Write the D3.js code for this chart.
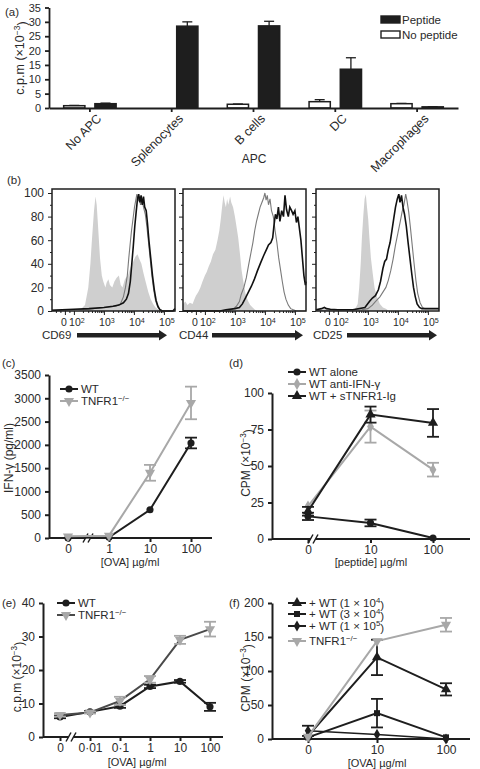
<!DOCTYPE html>
<html><head><meta charset="utf-8">
<script src="https://cdn.jsdelivr.net/npm/d3@7"></script>
<style>
body{margin:0;background:#fff;}
svg text{font-family:"Liberation Sans",Arial,Helvetica,sans-serif;fill:#2a2a2a;}
</style></head><body>
<svg id="chart" width="480" height="769"></svg>
<script>
// ================= DATA =================
// (a)
const apcCategories = ["No APC","Splenocytes","B cells","DC","Macrophages"];
const apcSeries = ["No peptide","Peptide"];
const noPeptideValues = [0.8, 0, 1.3, 2.2, 1.5];
const noPeptideErrTop = [0.9, 0, 1.4, 2.9, 1.6];
const peptideValues = [1.5, 28.5, 28.6, 13.5, 0.4];
const peptideErrTop = [1.7, 30.0, 30.2, 17.5, 0.45];
const apcTicks = [0,5,10,15,20,25,30,35];

// (b) flow histograms: [decade position, % of max]
const histMarkers = ["CD69","CD44","CD25"];
const histYTicks = [0,20,40,60,80,100];
const histXTickLabels = ["0","10","10","10","10"];
const histXTickSups = ["","2","3","4","5"];
const histXTickPos = [1.7,2,3,4,5];
const cd69Isotype = [[1.27,0],[2.15,0],[2.25,2],[2.37,5],[2.48,20],[2.55,40],[2.6,60],[2.67,85],[2.72,97],[2.76,90],[2.81,70],[2.87,45],[2.93,30],[2.98,25],[3.05,20],[3.09,24],[3.15,27],[3.2,22],[3.28,20],[3.35,25],[3.42,28],[3.5,30],[3.56,22],[3.62,20],[3.7,27],[3.8,30],[3.9,38],[3.98,42],[4.05,46],[4.12,48],[4.18,44],[4.25,40],[4.32,32],[4.4,24],[4.48,16],[4.56,10],[4.64,6],[4.72,3],[4.82,1],[4.92,0],[5.37,0]];
const cd69Gray = [[1.27,0.5],[2.5,1.5],[3.0,3],[3.4,4],[3.55,6],[3.65,12],[3.72,20],[3.78,30],[3.83,45],[3.88,58],[3.92,68],[3.97,78],[4.02,88],[4.07,95],[4.1,99],[4.14,93],[4.18,97],[4.22,90],[4.27,95],[4.32,88],[4.38,82],[4.43,72],[4.48,60],[4.54,45],[4.6,30],[4.66,18],[4.72,9],[4.8,3],[4.88,1],[4.96,0],[5.37,0]];
const cd69Black = [[1.27,0.5],[1.6,1],[2.0,1.5],[2.5,2],[3.0,3],[3.3,4],[3.5,5],[3.65,7],[3.75,10],[3.82,15],[3.88,25],[3.93,40],[3.98,55],[4.03,72],[4.08,85],[4.12,95],[4.16,99],[4.2,92],[4.24,98],[4.28,90],[4.32,97],[4.36,88],[4.41,85],[4.45,75],[4.5,60],[4.56,45],[4.62,30],[4.68,18],[4.74,9],[4.8,4],[4.87,1],[4.95,0],[5.3,0],[5.37,2]];
const cd44Isotype = [[1.27,6],[1.35,8],[1.42,5],[1.5,7],[1.59,6],[1.65,10],[1.7,13],[1.78,16],[1.85,20],[1.92,25],[2.0,30],[2.06,33],[2.13,38],[2.2,42],[2.27,48],[2.35,52],[2.42,60],[2.48,68],[2.53,78],[2.58,90],[2.62,98],[2.66,92],[2.7,88],[2.74,95],[2.78,90],[2.84,97],[2.88,92],[2.94,88],[3.0,80],[3.05,72],[3.11,62],[3.17,48],[3.22,35],[3.28,25],[3.35,15],[3.43,9],[3.51,5],[3.59,3],[3.67,1],[3.75,0],[5.37,0]];
const cd44Gray = [[1.27,0],[2.8,0],[2.95,2],[3.05,4],[3.15,8],[3.21,14],[3.3,20],[3.38,28],[3.45,38],[3.54,50],[3.6,58],[3.66,68],[3.72,76],[3.78,82],[3.84,88],[3.9,92],[3.96,96],[4.0,100],[4.04,94],[4.08,98],[4.12,90],[4.17,95],[4.22,85],[4.28,80],[4.34,68],[4.4,58],[4.46,45],[4.52,35],[4.58,25],[4.64,16],[4.7,10],[4.78,5],[4.86,2],[4.95,1],[5.05,0],[5.37,0]];
const cd44Black = [[1.27,0],[2.5,0],[2.7,1],[3.0,2],[3.15,3],[3.25,6],[3.35,11],[3.45,16],[3.55,21],[3.65,27],[3.75,34],[3.86,41],[3.96,47],[4.05,52],[4.12,56],[4.2,58],[4.26,62],[4.3,72],[4.35,82],[4.4,78],[4.45,88],[4.5,76],[4.56,85],[4.62,80],[4.67,98],[4.72,86],[4.78,80],[4.83,88],[4.89,85],[4.94,82],[5.0,85],[5.05,75],[5.1,80],[5.15,70],[5.2,60],[5.25,45],[5.3,30],[5.35,22],[5.37,25]];
const cd25Isotype = [[1.27,0],[2.5,0],[2.6,3],[2.66,6],[2.71,20],[2.76,40],[2.8,62],[2.85,82],[2.89,95],[2.93,99],[2.97,88],[3.01,78],[3.05,62],[3.1,45],[3.16,32],[3.22,20],[3.3,12],[3.4,6],[3.5,3],[3.6,2],[3.7,0],[5.37,0]];
const cd25Gray = [[1.27,0.5],[2.8,1],[3.0,2],[3.15,5],[3.25,8],[3.4,12],[3.5,16],[3.6,20],[3.68,26],[3.76,34],[3.84,44],[3.92,56],[4.0,66],[4.08,76],[4.14,84],[4.2,90],[4.26,99],[4.3,94],[4.36,84],[4.42,70],[4.48,55],[4.54,40],[4.6,26],[4.66,15],[4.74,7],[4.82,3],[4.9,2],[5.37,2]];
const cd25Black = [[1.27,1],[1.45,2],[1.55,3],[1.62,2],[1.75,1.5],[2.0,1],[2.5,1],[2.9,3],[3.05,8],[3.15,11],[3.25,13],[3.35,18],[3.42,25],[3.5,36],[3.56,42],[3.62,44],[3.68,52],[3.74,58],[3.8,68],[3.86,78],[3.92,88],[3.98,95],[4.03,99],[4.07,92],[4.12,98],[4.17,88],[4.22,82],[4.28,72],[4.34,58],[4.4,45],[4.46,32],[4.52,20],[4.58,12],[4.64,6],[4.72,3],[4.8,2],[5.37,2]];

// (c)
const ovaC = ["0","1","10","100"];
const cWT = [0, 14, 607, 2040];
const cWTErr = [0, 0, 0, 115];
const cTNF = [36, 50, 1400, 2900];
const cTNFErr = [0, 0, 170, 350];
const cYTicks = [0,500,1000,1500,2000,2500,3000,3500];

// (d)
const peptideD = ["0","10","100"];
const dWTalone = [15.5, 11, 0.7];
const dWTaloneErr = [2.5, 2.3, 0];
const dAntiIFN = [22.4, 77, 47.5];
const dAntiIFNErr = [0, 11, 4.7];
const dSTNFR = [19, 85.2, 79.5];
const dSTNFRErr = [3, 5.5, 9.5];
const dYTicks = [0,25,50,75,100];

// (e)
const ovaE = ["0","0·01","0·1","1","10","100"];
const eWT = [6.0, 7.5, 9.2, 15.1, 16.6, 9.0];
const eWTErr = [0.4, 0.3, 0.5, 0.5, 0.4, 1.2];
const eTNF = [6.6, 7.3, 10.8, 17.2, 29.0, 32.2];
const eTNFErr = [0.5, 0.3, 1.2, 1.0, 1.2, 2.2];
const eYTicks = [0,10,20,30,40];

// (f)
const ovaF = ["0","10","100"];
const fWT1e4 = [4.4, 120, 73];
const fWT1e4Err = [0, 26, 9];
const fWT3e4 = [2.4, 38, 2.4];
const fWT3e4Err = [0, 21, 0];
const fWT1e5 = [12, 6.8, 0];
const fWT1e5Err = [7.5, 0, 0];
const fTNF = [3.4, 144, 168];
const fTNFErr = [0, 0, 10];
const fYTicks = [0,50,100,150,200];

// ================= DRAW =================
const svg = d3.select("#chart");
const BLACK = "#1e1e1e", GRAY = "#a8a8a8";

function richText(g, x, y, parts, opts = {}) {
  const size = opts.size || 11;
  const t = g.append("text").attr("x", x).attr("y", y).attr("font-size", size)
    .attr("text-anchor", opts.anchor || "start");
  if (opts.transform) t.attr("transform", opts.transform);
  let prevSup = false;
  parts.forEach(p => {
    const [txt, sup] = Array.isArray(p) ? p : [p, false];
    const ts = t.append("tspan").text(txt);
    if (sup && !prevSup) ts.attr("dy", "-0.45em");
    if (!sup && prevSup) ts.attr("dy", "0.45em");
    if (sup) ts.attr("font-size", size * 0.68);
    prevSup = sup;
  });
  return t;
}
function styleAxis(g, width) {
  g.select(".domain").attr("stroke", BLACK).attr("stroke-width", width);
  g.selectAll(".tick line").attr("stroke", BLACK).attr("stroke-width", width);
  g.selectAll(".tick text").attr("fill", "#2a2a2a").attr("font-family", "Liberation Sans, Arial, sans-serif");
}

// ---------- (a) ----------
{
  const g = svg.append("g");
  const y = d3.scaleLinear().domain([0,35]).range([108,7.5]);
  const x0 = d3.scaleBand().domain(apcCategories).range([49,458]).paddingInner(0).paddingOuter(0);
  const x1 = d3.scaleBand().domain(apcSeries).range([0, x0.bandwidth()]).paddingInner(0.32).paddingOuter(0.47);
  const yAx = g.append("g").attr("transform","translate(49,0)")
    .call(d3.axisLeft(y).tickValues(apcTicks).tickSize(4).tickSizeOuter(0));
  yAx.selectAll(".tick text").attr("font-size", 11).attr("dx", -1);
  styleAxis(yAx, 1.8);
  const rows = apcCategories.map((c,i) => ({c, np: noPeptideValues[i], npe: noPeptideErrTop[i], p: peptideValues[i], pe: peptideErrTop[i]}));
  rows.forEach(r => {
    [["No peptide", r.np, r.npe, "#fff"], ["Peptide", r.p, r.pe, BLACK]].forEach(([s, v, e, fill]) => {
      if (v <= 0) return;
      const bx = x0(r.c) + x1(s), bw = x1.bandwidth();
      if (e > v) {
        const cx = bx + bw/2;
        g.append("line").attr("x1", cx).attr("x2", cx).attr("y1", y(v)).attr("y2", y(e)).attr("stroke", BLACK).attr("stroke-width", 1.3);
        g.append("line").attr("x1", cx-5).attr("x2", cx+5).attr("y1", y(e)).attr("y2", y(e)).attr("stroke", BLACK).attr("stroke-width", 1.3);
      }
      g.append("rect").attr("x", bx).attr("width", bw).attr("y", y(v)).attr("height", y(0) - y(v))
        .attr("fill", fill).attr("stroke", BLACK).attr("stroke-width", 1.5);
    });
  });
  const xAx = g.append("g").attr("transform","translate(0,108)")
    .call(d3.axisBottom(x0).tickSize(4).tickSizeOuter(0));
  styleAxis(xAx, 1.8);
  xAx.selectAll(".tick text").attr("font-size", 12.5).attr("text-anchor","end")
    .attr("transform","translate(5,4) rotate(-45)").attr("dy","0.35em").attr("y", 6).attr("x", 0);
  g.append("text").attr("x", 254).attr("y", 163).attr("text-anchor","middle").attr("font-size", 12).text("APC");
  richText(g, 0, 0, ["c.p.m (×10", ["−3", true], ")"], {size: 12.5, anchor: "middle", transform: "translate(24,58) rotate(-90)"});
  g.append("text").attr("x", 5).attr("y", 16).attr("font-size", 11.5).text("(a)");
  // legend
  const lg = g.append("g");
  [["Peptide", BLACK, 16], ["No peptide", "#fff", 31]].forEach(([lab, fill, yy]) => {
    lg.append("rect").attr("x", 381).attr("y", yy).attr("width", 19).attr("height", 7).attr("fill", fill).attr("stroke", BLACK).attr("stroke-width", 1.4);
    lg.append("text").attr("x", 402).attr("y", yy + 7.5).attr("font-size", 11.5).text(lab);
  });
}

// ---------- (b) ----------
{
  const lefts = [52, 183, 316], W = 123, top = 189, bottom = 311;
  const labelX = [42, 179, 313];
  const arrows = [[77,167],[212,303],[347,437]];
  const y = d3.scaleLinear().domain([0,100]).range([311,193]);
  const data = [[cd69Isotype, cd69Gray, cd69Black],[cd44Isotype, cd44Gray, cd44Black],[cd25Isotype, cd25Gray, cd25Black]];
  svg.append("text").attr("x", 7).attr("y", 184).attr("font-size", 11.5).text("(b)");
  lefts.forEach((L, k) => {
    const g = svg.append("g");
    const x = d3.scaleLinear().domain([1.27, 5.37]).range([L, L + W]);
    const area = d3.area().x(d => x(d[0])).y0(y(0)).y1(d => y(d[1]));
    const line = d3.line().x(d => x(d[0])).y(d => y(d[1]));
    g.append("path").attr("d", area(data[k][0])).attr("fill", "#cfcfcf");
    g.append("path").attr("d", line(data[k][1])).attr("fill","none").attr("stroke", "#7a7a7a").attr("stroke-width", 1.1);
    g.append("path").attr("d", line(data[k][2])).attr("fill","none").attr("stroke", "#111").attr("stroke-width", 1.6);
    g.append("rect").attr("x", L).attr("y", top).attr("width", W).attr("height", bottom - top)
      .attr("fill","none").attr("stroke", BLACK).attr("stroke-width", 1.5);
    // y ticks
    const yAx = g.append("g").attr("transform", `translate(${L},0)`)
      .call(d3.axisLeft(y).tickValues(histYTicks).tickSize(4).tickSizeOuter(0).tickFormat(k === 0 ? d3.format("d") : ""));
    yAx.select(".domain").remove();
    yAx.selectAll(".tick text").attr("font-size", 12).attr("dx", -1);
    styleAxis(yAx, 1);
    g.append("g").attr("transform", `translate(${L},0)`)
      .call(d3.axisLeft(y).tickValues([10,30,50,70,90]).tickSize(2).tickFormat(""))
      .call(a => { a.select(".domain").remove(); a.selectAll("line").attr("stroke", BLACK); });
    // x ticks
    const minor = [];
    for (let e = 2; e <= 4; e++) for (let m = 2; m <= 9; m++) minor.push(e + Math.log10(m));
    [1.4, 1.55, 1.85].forEach(v => minor.push(v));
    const xAxMinor = g.append("g").attr("transform", `translate(0,${bottom})`)
      .call(d3.axisBottom(x).tickValues(minor).tickSize(2).tickFormat(""));
    xAxMinor.select(".domain").remove();
    xAxMinor.selectAll("line").attr("stroke", BLACK);
    const xAx = g.append("g").attr("transform", `translate(0,${bottom})`)
      .call(d3.axisBottom(x).tickValues(histXTickPos).tickSize(4).tickFormat(""));
    xAx.select(".domain").remove();
    xAx.selectAll("line").attr("stroke", BLACK).attr("stroke-width", 1);
    histXTickPos.forEach((p, i) => {
      const parts = histXTickSups[i] ? [histXTickLabels[i], [histXTickSups[i], true]] : [histXTickLabels[i]];
      richText(g, x(p) + (histXTickSups[i] ? 3 : -1), 326, parts, {size: 10.5, anchor: "middle"});
    });
    // marker label + arrow
    g.append("text").attr("x", labelX[k]).attr("y", 339).attr("font-size", 11.5).text(histMarkers[k]);
    const [ax0, ax1] = arrows[k];
    g.append("rect").attr("x", ax0).attr("y", 333).attr("width", ax1 - ax0 - 7).attr("height", 4.5).attr("fill", "#222");
    g.append("path").attr("d", `M${ax1 - 8},330 L${ax1},335.2 L${ax1 - 8},340.5 Z`).attr("fill", "#222");
  });
}

// generic line panel
function linePanel(cfg) {
  const g = svg.append("g");
  const x = d3.scalePoint().domain(cfg.xDomain).range(cfg.xRange);
  const y = d3.scaleLinear().domain(cfg.yDomain).range([cfg.y0, cfg.y1]);
  const yAx = g.append("g").attr("transform", `translate(${cfg.axX},0)`)
    .call(d3.axisLeft(y).tickValues(cfg.yTicks).tickSize(4).tickSizeOuter(0).tickFormat(d3.format("d")));
  yAx.selectAll(".tick text").attr("font-size", 12).attr("dx", -1);
  styleAxis(yAx, 2);
  const xAx = g.append("g").attr("transform", `translate(0,${cfg.y0})`)
    .call(d3.axisBottom(x).tickSize(4).tickSizeOuter(0));
  xAx.select(".domain").attr("d", `M${cfg.axX},0H${cfg.axEnd}`);
  xAx.selectAll(".tick text").attr("font-size", 12).attr("y", 6);
  styleAxis(xAx, 2);
  if (cfg.breakX) {
    const bx = cfg.breakX, by = cfg.y0;
    g.append("rect").attr("x", bx - 2.5).attr("y", by - 3).attr("width", 5).attr("height", 6).attr("fill", "#fff");
    [-2.5, 2.5].forEach(o => g.append("line").attr("x1", bx + o - 2.5).attr("y1", by + 4.5).attr("x2", bx + o + 2.5).attr("y2", by - 4.5)
      .attr("stroke", BLACK).attr("stroke-width", 1.5));
  }
  // series
  cfg.series.forEach(s => {
    const pts = s.values.map((v, i) => ({x: x(cfg.xDomain[i]), y: y(v), v, e: s.err[i]}));
    const line = d3.line().x(d => d.x).y(d => d.y);
    g.append("path").attr("d", line(pts)).attr("fill","none").attr("stroke", s.lineColor).attr("stroke-width", s.lw || 2);
    pts.forEach(p => {
      if (p.e > 0) {
        const yt = y(p.v + p.e), yb = y(Math.max(cfg.yDomain[0], p.v - p.e));
        g.append("line").attr("x1", p.x).attr("x2", p.x).attr("y1", yt).attr("y2", yb).attr("stroke", s.color).attr("stroke-width", 1.8);
        [yt, yb].forEach(yy => g.append("line").attr("x1", p.x - 6).attr("x2", p.x + 6).attr("y1", yy).attr("y2", yy).attr("stroke", s.color).attr("stroke-width", 1.8));
      }
      g.append("path").attr("d", d3.symbol().type(s.symbol).size(s.size || 42)())
        .attr("transform", `translate(${p.x},${p.y})${s.rotate ? " rotate(180)" : ""}`).attr("fill", s.color);
    });
  });
  // legend
  cfg.series.forEach((s, i) => {
    const ly = cfg.legendY[i];
    g.append("line").attr("x1", cfg.legendX).attr("x2", cfg.legendX + 18).attr("y1", ly).attr("y2", ly).attr("stroke", s.lineColor).attr("stroke-width", 2);
    g.append("path").attr("d", d3.symbol().type(s.symbol).size(s.size || 42)())
      .attr("transform", `translate(${cfg.legendX + 9},${ly})${s.rotate ? " rotate(180)" : ""}`).attr("fill", s.color);
    richText(g, cfg.legendX + 21, ly + 4, s.label, {size: 11.5});
  });
  richText(g, 0, 0, cfg.yLabel, {size: 12, anchor: "middle", transform: `translate(${cfg.yLabelX},${cfg.yLabelY}) rotate(-90)`});
  g.append("text").attr("x", cfg.xLabelX).attr("y", cfg.xLabelY).attr("text-anchor","middle").attr("font-size", 11).text(cfg.xLabel);
  g.append("text").attr("x", cfg.tagX).attr("y", cfg.tagY).attr("font-size", 11.5).text(cfg.tag);
}

// ---------- (c) ----------
linePanel({
  xDomain: ovaC, xRange: [68, 191], yDomain: [0, 3500], y0: 538, y1: 375, axX: 49, axEnd: 212, yTicks: cYTicks,
  breakX: 88,
  series: [
    {values: cWT, err: cWTErr, color: BLACK, lineColor: BLACK, symbol: d3.symbolCircle, size: 40, label: ["WT"]},
    {values: cTNF, err: cTNFErr, color: GRAY, lineColor: GRAY, symbol: d3.symbolTriangle, rotate: true, size: 45, label: ["TNFR1", ["−/−", true]]}
  ],
  legendX: 60, legendY: [389, 401],
  yLabel: ["IFN-γ (pg/ml)"], yLabelX: 13, yLabelY: 458,
  xLabel: "[OVA] µg/ml", xLabelX: 130, xLabelY: 566, tag: "(c)", tagX: 2, tagY: 367
});

// ---------- (d) ----------
linePanel({
  xDomain: peptideD, xRange: [308, 433], yDomain: [0, 100], y0: 539, y1: 393, axX: 272, axEnd: 470, yTicks: dYTicks,
  breakX: 313,
  series: [
    {values: dWTalone, err: dWTaloneErr, color: BLACK, lineColor: BLACK, symbol: d3.symbolCircle, size: 40, label: ["WT alone"]},
    {values: dAntiIFN, err: dAntiIFNErr, color: GRAY, lineColor: GRAY, symbol: d3.symbolDiamond, size: 40, label: ["WT anti-IFN-γ"]},
    {values: dSTNFR, err: dSTNFRErr, color: BLACK, lineColor: BLACK, symbol: d3.symbolTriangle, size: 45, label: ["WT + sTNFR1-Ig"]}
  ],
  legendX: 288, legendY: [372, 384, 396],
  yLabel: ["CPM (×10", ["−3", true], ")"], yLabelX: 250, yLabelY: 463,
  xLabel: "[peptide] µg/ml", xLabelX: 371, xLabelY: 566, tag: "(d)", tagX: 229, tagY: 367
});

// ---------- (e) ----------
linePanel({
  xDomain: ovaE, xRange: [60, 210], yDomain: [0, 40], y0: 737, y1: 603, axX: 43, axEnd: 223, yTicks: eYTicks,
  breakX: 71,
  series: [
    {values: eWT, err: eWTErr, color: BLACK, lineColor: BLACK, symbol: d3.symbolCircle, size: 40, label: ["WT"]},
    {values: eTNF, err: eTNFErr, color: GRAY, lineColor: "#4a4a4a", symbol: d3.symbolTriangle, rotate: true, size: 45, label: ["TNFR1", ["−/−", true]]}
  ],
  legendX: 57, legendY: [603, 615],
  yLabel: ["c.p.m (×10", ["−3", true], ")"], yLabelX: 21, yLabelY: 677,
  xLabel: "[OVA] µg/ml", xLabelX: 137, xLabelY: 766, tag: "(e)", tagX: 2, tagY: 607
});

// ---------- (f) ----------
linePanel({
  xDomain: ovaF, xRange: [308, 446], yDomain: [0, 200], y0: 739, y1: 603, axX: 272, axEnd: 470, yTicks: fYTicks,
  series: [
    {values: fWT1e4, err: fWT1e4Err, color: BLACK, lineColor: BLACK, symbol: d3.symbolTriangle, size: 45, label: ["+ WT (1 × 10", ["4", true], ")"]},
    {values: fWT3e4, err: fWT3e4Err, color: BLACK, lineColor: BLACK, symbol: d3.symbolSquare, size: 36, label: ["+ WT (3 × 10", ["4", true], ")"]},
    {values: fWT1e5, err: fWT1e5Err, color: BLACK, lineColor: BLACK, symbol: d3.symbolDiamond, size: 36, lw: 1.5, label: ["+ WT (1 × 10", ["5", true], ")"]},
    {values: fTNF, err: fTNFErr, color: GRAY, lineColor: GRAY, symbol: d3.symbolTriangle, rotate: true, size: 45, label: ["TNFR1", ["−/−", true]]}
  ],
  legendX: 288, legendY: [603, 614, 626, 641],
  yLabel: ["CPM (×10", ["−3", true], ")"], yLabelX: 250, yLabelY: 678,
  xLabel: "[OVA] µg/ml", xLabelX: 377, xLabelY: 767, tag: "(f)", tagX: 229, tagY: 607
});
</script>
</body></html>
